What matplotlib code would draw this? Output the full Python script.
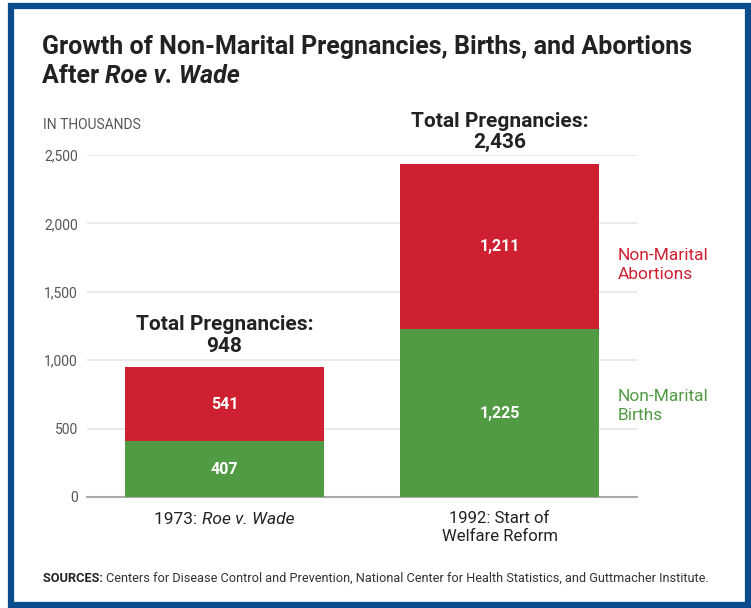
import matplotlib
matplotlib.use("Agg")
import matplotlib.pyplot as plt
from matplotlib.patches import Rectangle

# Data (thousands)
categories = [("1973: ", "Roe v. Wade"), ("1992: Start of\nWelfare Reform", "")]
births = [407, 1225]
abortions = [541, 1211]
totals = [948, 2436]
yticks = [0, 500, 1000, 1500, 2000, 2500]
ytick_labels = ["0", "500", "1,000", "1,500", "2,000", "2,500"]

RED = "#CF2032"
GREEN = "#519B45"
BLUE = "#0B4C8C"
DARK = "#222222"
GRAY = "#555555"

plt.rcParams["font.family"] = ["Roboto", "DejaVu Sans"]

fig = plt.figure(figsize=(7.51, 6.08), dpi=100)
W, H = 751, 608


def fx(px):
    return px / W


def fy(py):
    return 1 - py / H


def text_run(x0, y0, pieces, ha="left", **kw):
    """Draw consecutive text pieces (text, style dict) on one baseline."""
    renderer = fig.canvas.get_renderer()
    objs = []
    cur = x0
    for s, style in pieces:
        t = fig.text(cur, y0, s, ha="left", va="center", **kw, **style)
        bb = t.get_window_extent(renderer)
        cur = bb.x1 / W
        objs.append(t)
    if ha == "center":
        total = cur - x0
        for t in objs:
            xx, yy = t.get_position()
            t.set_position((xx - total / 2, yy))
    return objs


# Frame
fig.patches.append(Rectangle((fx(11), fy(605)), fx(737), (605 - 5.5) / H,
                             transform=fig.transFigure, fill=False,
                             edgecolor=BLUE, linewidth=4.5))

ax = fig.add_axes([fx(87), fy(497), fx(550), 342 / H])
x = [0, 1]
width = 0.722
ax.bar(x, births, width=width, color=GREEN, zorder=3)
ax.bar(x, abortions, width=width, bottom=births, color=RED, zorder=3)

ax.set_xlim(-0.5, 1.5)
ax.set_ylim(0, 2500)
ax.set_yticks(yticks)
ax.set_yticklabels(ytick_labels, fontsize=10, color=GRAY)
ax.set_xticks(x)
ax.set_xticklabels(["", categories[1][0]], fontsize=12, color=DARK,
                   linespacing=1.3)
ax.tick_params(axis="y", length=0, pad=6.5)
ax.tick_params(axis="x", length=0, pad=10)
for s in ["top", "right", "left"]:
    ax.spines[s].set_visible(False)
ax.spines["bottom"].set_color("#AAAAAA")
ax.spines["bottom"].set_linewidth(1.5)
ax.yaxis.grid(True, color="#E8E8E8", linewidth=1.3, zorder=0)
ax.set_axisbelow(True)

# Segment labels and totals
for i in x:
    ax.text(i, births[i] / 2, f"{births[i]:,}", ha="center", va="center",
            color="white", fontsize=11.5, fontweight="bold")
    ax.text(i, births[i] + abortions[i] / 2, f"{abortions[i]:,}", ha="center",
            va="center", color="white", fontsize=11.5, fontweight="bold")
    ax.text(i, totals[i] + 85, f"Total Pregnancies:\n{totals[i]:,}", ha="center",
            va="bottom", color=DARK, fontsize=15, fontweight="bold",
            linespacing=1.15, clip_on=False)

# Series labels at the right
ax.text(1.43, births[1] + abortions[1] / 2 - 135, "Non-Marital\nAbortions",
        ha="left", va="center", color=RED, fontsize=12.5, linespacing=1.35,
        clip_on=False)
ax.text(1.43, births[1] / 2 + 50, "Non-Marital\nBirths", ha="left",
        va="center", color=GREEN, fontsize=12.5, linespacing=1.35,
        clip_on=False)

fig.canvas.draw()

# First category label with italic case name
xc = (ax.transData.transform((0, 0))[0]) / W
text_run(xc, fy(520), [(categories[0][0], {}),
                       (categories[0][1], {"fontstyle": "italic"})],
         ha="center", fontsize=12.5, color=DARK)

# Titles and notes
fig.text(fx(42), fy(47), "Growth of Non-Marital Pregnancies, Births, and Abortions",
         ha="left", va="center", fontsize=18, fontweight="bold", color=DARK)
text_run(fx(42), fy(76), [("After ", {}),
                          ("Roe v. Wade", {"fontstyle": "italic"})],
         fontsize=18, fontweight="bold", color=DARK)
fig.text(fx(43), fy(125), "IN THOUSANDS", ha="left", va="center",
         fontsize=10, color=GRAY)
text_run(fx(43), fy(578),
         [("SOURCES: ", {"fontweight": "bold", "color": DARK}),
          ("Centers for Disease Control and Prevention, National Center for "
           "Health Statistics, and Guttmacher Institute.", {"color": "#333333"})],
         fontsize=9.2)

fig.savefig("out.png", dpi=100)
